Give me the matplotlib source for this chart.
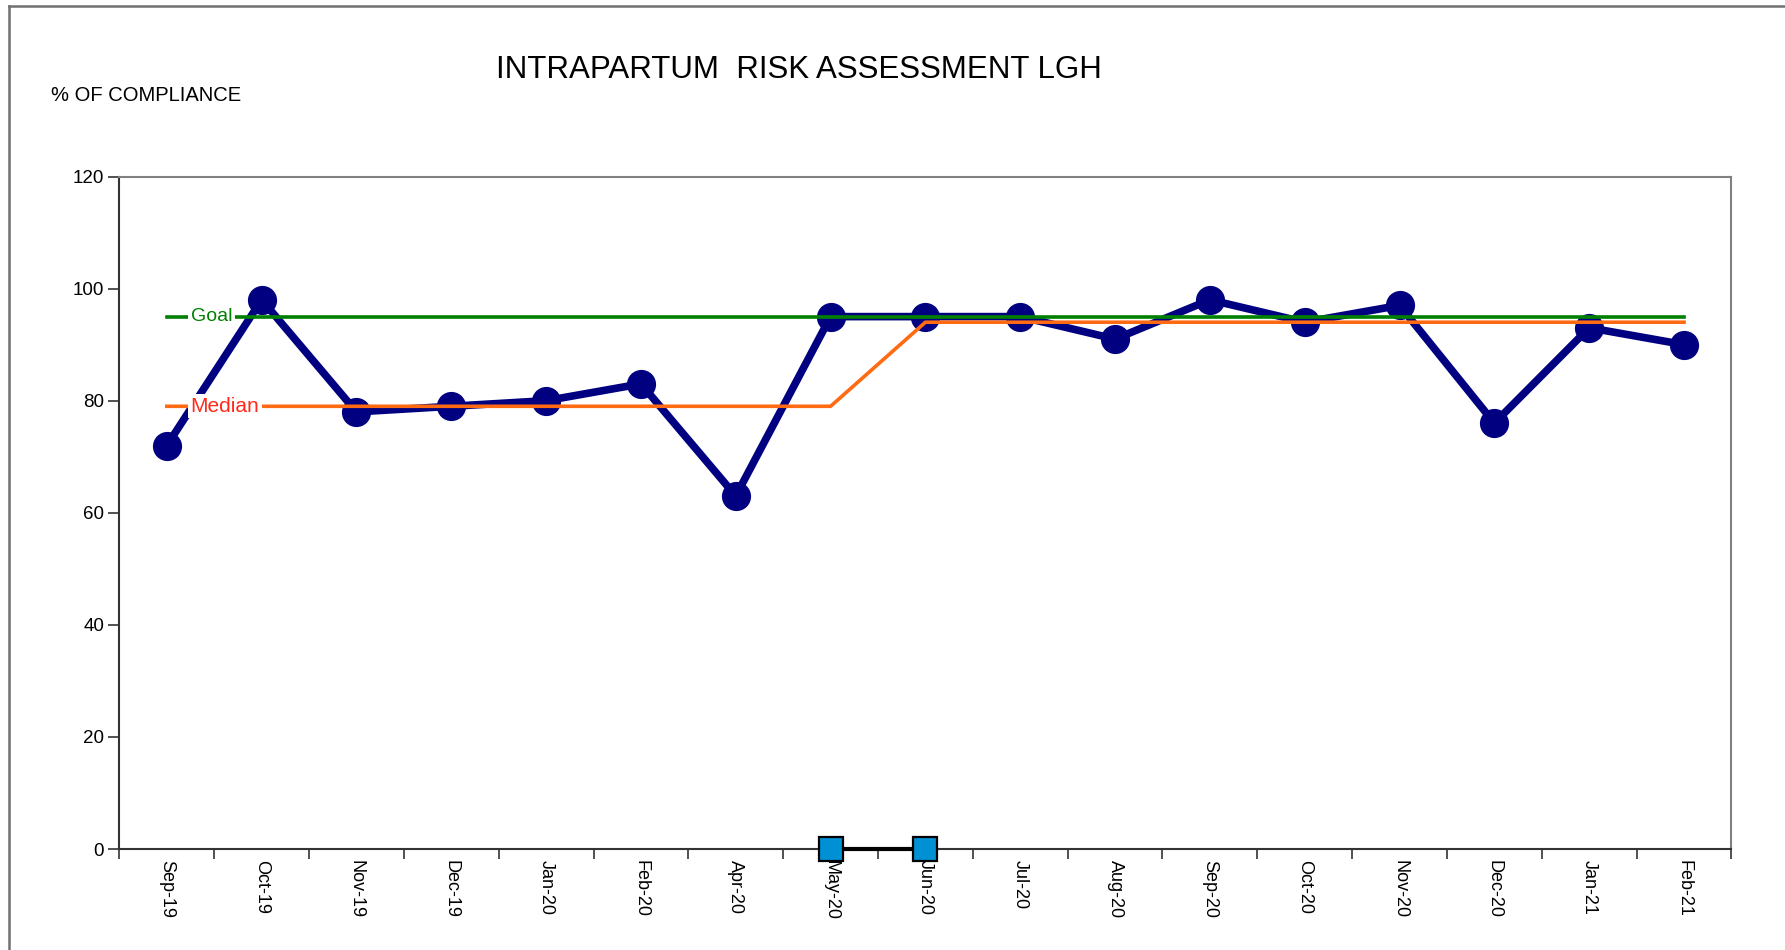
import matplotlib
matplotlib.use('Agg')
from matplotlib import pyplot as plt
from matplotlib.lines import Line2D
import numpy as np

plt.rcParams['font.family'] = ['Liberation Sans', 'DejaVu Sans']

months = ['Sep-19', 'Oct-19', 'Nov-19', 'Dec-19', 'Jan-20', 'Feb-20', 'Apr-20',
          'May-20', 'Jun-20', 'Jul-20', 'Aug-20', 'Sep-20', 'Oct-20', 'Nov-20',
          'Dec-20', 'Jan-21', 'Feb-21']
compliance = [72, 98, 78, 79, 80, 83, 63, 95, 95, 95, 91, 98, 94, 97, 76, 93, 90]
goal = [95] * 17
median = [79, 79, 79, 79, 79, 79, 79, 79, 94, 94, 94, 94, 94, 94, 94, 94, 94]
shift = [np.nan] * 7 + [0, 0] + [np.nan] * 8

navy = '#000080'
green = '#008000'
orange = '#ff6a13'
cyan = '#0090d4'

fig = plt.figure(figsize=(17.85, 9.5), dpi=100)
ax = fig.add_axes([0.0669, 0.1063, 0.9031, 0.7079])

x = np.arange(len(months))
ax.plot(x, compliance, color=navy, lw=5.5, marker='o', ms=20, zorder=2,
        solid_joinstyle='round')
ax.plot(x, goal, color=green, lw=2.6, zorder=3)
ax.plot(x, median, color=orange, lw=2.6, zorder=3)
ax.plot(x, shift, color='black', lw=3, marker='s', ms=17, mfc=cyan,
        mec='black', mew=1.6, zorder=4, clip_on=False)

# line labels sit on white boxes that break the lines behind them
ax.text(0.25, goal[0], 'Goal', color=green, fontsize=14, ha='left', va='center',
        zorder=6, bbox=dict(facecolor='white', edgecolor='none', pad=2))
ax.text(0.25, median[0], 'Median', color='#ff2a1a', fontsize=15, ha='left',
        va='center', zorder=6, bbox=dict(facecolor='white', edgecolor='none', pad=2))

ax.set_xlim(-0.5, len(months) - 0.5)
ax.set_ylim(0, 120)
ax.set_yticks(range(0, 121, 20))
ax.set_xticks(x)
ax.set_xticklabels(months, rotation=270, fontsize=13)
ax.set_xticks(np.arange(-0.5, len(months)), minor=True)
ax.tick_params(axis='x', which='major', length=0, pad=8)
ax.tick_params(axis='x', which='minor', length=7, width=1.2, color='#333333')
ax.tick_params(axis='y', length=8, width=1.2, labelsize=13.5, pad=3, color='#333333')
for side in ['top', 'right']:
    ax.spines[side].set_color('#808080')
    ax.spines[side].set_linewidth(1.5)
for side in ['left', 'bottom']:
    ax.spines[side].set_color('#333333')
    ax.spines[side].set_linewidth(1.5)

fig.text(0.4475, 0.926, 'INTRAPARTUM  RISK ASSESSMENT LGH', fontsize=22.5,
         ha='center', va='center')
fig.text(0.0286, 0.899, '% OF COMPLIANCE', fontsize=14.5, ha='left', va='center')

# outer chart border (left and top edges visible)
fig.add_artist(Line2D([0.005, 0.005], [0, 0.9937], color='#707070', lw=1.8))
fig.add_artist(Line2D([0.005, 1.0], [0.9937, 0.9937], color='#707070', lw=1.8))

fig.savefig('out.png', dpi=100)
